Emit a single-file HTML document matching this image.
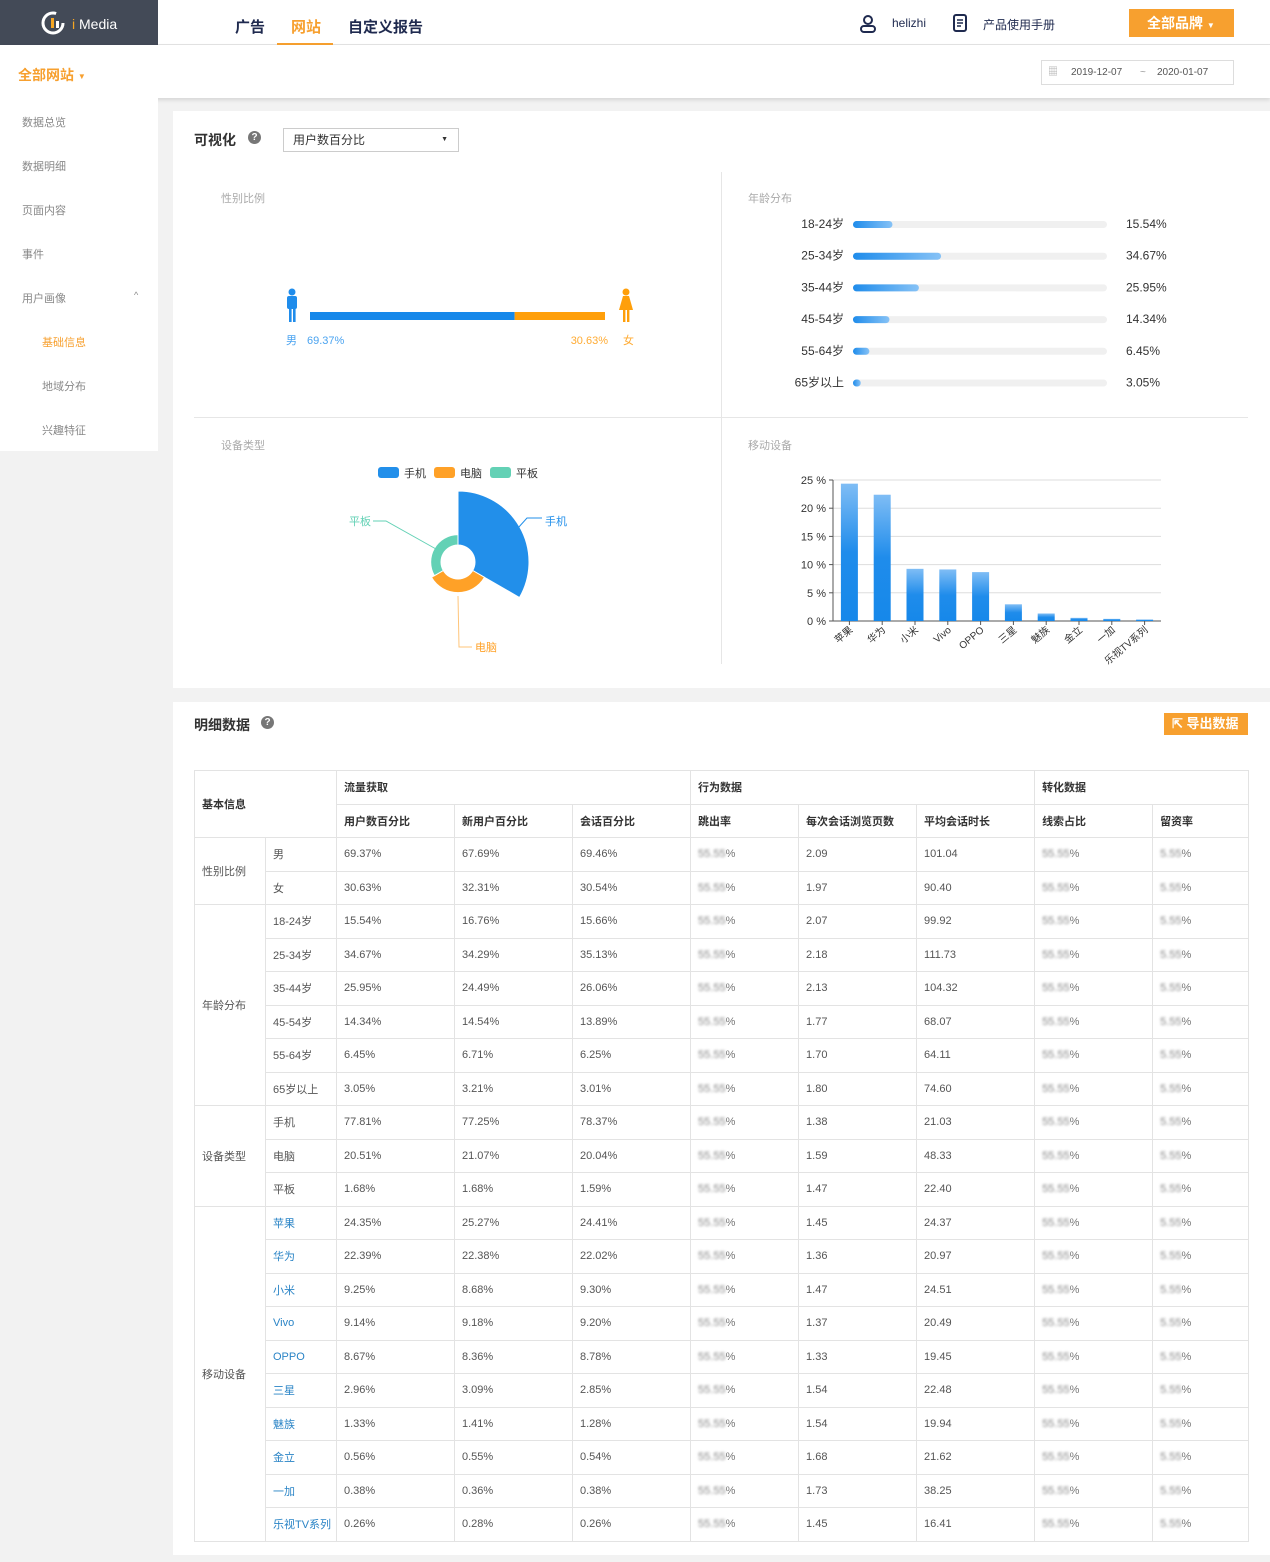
<!DOCTYPE html>
<html><head><meta charset="utf-8">
<style>
*{box-sizing:border-box;margin:0;padding:0}
body{width:1270px;height:1562px;background:#f2f2f2;font-family:"Liberation Sans","Noto Sans CJK SC",sans-serif;position:relative;overflow:hidden;color:#333}
.abs{position:absolute}
#topbar{left:0;top:0;width:1270px;height:45px;background:#fff;border-bottom:1px solid #e4e4e4}
#logo{left:0;top:0;width:158px;height:45px;background:#434a57;color:#fff;font-size:14px}
.nav{top:16px;font-size:15px;font-weight:bold;color:#1f2a4f}
#sub{left:0;top:45px;width:1270px;height:53px;background:#fff;box-shadow:0 2px 4px rgba(0,0,0,.12)}
#side{left:0;top:98px;width:158px;height:353px;background:#fff}
.si{position:absolute;font-size:11px;color:#888}
.card{background:#fff}
.blur{color:#777}
.blur b{font-weight:normal;filter:blur(1.3px);color:#888}
table{border-collapse:collapse;font-size:11px;color:#555;table-layout:fixed}
td{border:1px solid #e3e3e3;padding:0 7px;height:33.5px;vertical-align:middle;white-space:nowrap;overflow:visible}
th{border:1px solid #e3e3e3;padding:0 7px;height:33.5px;text-align:left;font-weight:bold;color:#333;font-size:11px;white-space:nowrap}
.brand{color:#2a84c6}
</style></head><body>
<div id="topbar" class="abs"></div>
<div id="logo" class="abs">
 <svg class="abs" style="left:40px;top:10px" width="28" height="26"><circle cx="13" cy="13" r="10" fill="none" stroke="#fff" stroke-width="3" stroke-dasharray="50 13"/><rect x="11" y="8" width="3" height="10" fill="#f5a623"/><rect x="16" y="11" width="3" height="7" fill="#fff"/></svg>
 <span class="abs" style="left:72px;top:16px;font-size:14px;color:#fff"><span style="color:#f5a623">i</span> Media</span>
</div>
<div class="abs nav" style="left:235px">广告</div>
<div class="abs nav" style="left:291px;color:#f7a02f">网站</div>
<div class="abs" style="left:277px;top:43px;width:56px;height:2px;background:#f7a02f"></div>
<div class="abs nav" style="left:348px">自定义报告</div>
<svg class="abs" style="left:859px;top:14px" width="18" height="20"><circle cx="9" cy="6" r="4" fill="none" stroke="#1f2a4f" stroke-width="2"/><rect x="2" y="12" width="14" height="6" rx="3" fill="none" stroke="#1f2a4f" stroke-width="2"/></svg>
<div class="abs" style="left:892px;top:16px;font-size:12px;color:#1f2a4f">helizhi</div>
<svg class="abs" style="left:952px;top:13px" width="16" height="20"><rect x="2" y="2" width="12" height="16" rx="2" fill="none" stroke="#1f2a4f" stroke-width="2"/><path d="M5 7h6M5 10h6M5 13h4" stroke="#1f2a4f" stroke-width="1.5"/></svg>
<div class="abs" style="left:983px;top:16px;font-size:12px;color:#1f2a4f">产品使用手册</div>
<div class="abs" style="left:1129px;top:9px;width:105px;height:28px;background:#f7a02f;color:#fff;font-size:14px;font-weight:bold;line-height:28px;padding-left:18px">全部品牌 <span style="font-size:8px">▼</span></div>

<div id="sub" class="abs"></div>
<div class="abs" style="left:18px;top:65px;font-size:14px;font-weight:bold;color:#f7a02f">全部网站 <span style="font-size:8px;vertical-align:middle">▼</span></div>
<div class="abs" style="left:1041px;top:60px;width:193px;height:25px;border:1px solid #ddd;font-size:10px;color:#555;line-height:23px"><span style="position:absolute;left:6px;color:#aaa">▦</span><span style="position:absolute;left:29px">2019-12-07</span><span style="position:absolute;left:98px;color:#999">~</span><span style="position:absolute;left:115px">2020-01-07</span></div>

<div id="side" class="abs">
 <div class="si" style="left:22px;top:16px">数据总览</div>
 <div class="si" style="left:22px;top:60px">数据明细</div>
 <div class="si" style="left:22px;top:104px">页面内容</div>
 <div class="si" style="left:22px;top:148px">事件</div>
 <div class="si" style="left:22px;top:192px">用户画像</div>
 <div class="si" style="left:134px;top:192px;font-size:9px">^</div>
 <div class="si" style="left:42px;top:236px;color:#f7a02f">基础信息</div>
 <div class="si" style="left:42px;top:280px">地域分布</div>
 <div class="si" style="left:42px;top:324px">兴趣特征</div>
</div>

<div class="abs card" style="left:173px;top:111px;width:1097px;height:577px"></div>
<div class="abs" style="left:194px;top:130px;font-size:14px;font-weight:bold">可视化</div>
<div class="abs" style="left:248px;top:131px;width:13px;height:13px;border-radius:50%;background:#777;color:#fff;font-size:10px;text-align:center;line-height:13px;font-weight:bold">?</div>
<div class="abs" style="left:283px;top:128px;width:176px;height:24px;border:1px solid #ccc;font-size:12px;line-height:22px;padding-left:9px">用户数百分比<span style="position:absolute;right:10px;font-size:7px">▼</span></div>
<div class="abs" style="left:721px;top:172px;width:1px;height:492px;background:#e6e6e6"></div>
<div class="abs" style="left:194px;top:417px;width:1054px;height:1px;background:#e6e6e6"></div>
<div class="abs" style="left:221px;top:190px;font-size:11px;color:#aaa">性别比例</div>
<div class="abs" style="left:748px;top:190px;font-size:11px;color:#aaa">年龄分布</div>
<div class="abs" style="left:221px;top:437px;font-size:11px;color:#aaa">设备类型</div>
<div class="abs" style="left:748px;top:437px;font-size:11px;color:#aaa">移动设备</div>

<svg class="abs" style="left:0;top:0" width="1270" height="700" id="charts">
 <defs><linearGradient id="gb" x1="0" y1="0" x2="0" y2="1"><stop offset="0" stop-color="#7fbdf5"/><stop offset=".5" stop-color="#1f8ceb"/><stop offset="1" stop-color="#1688ea"/></linearGradient>
 <linearGradient id="ga" x1="0" y1="0" x2="1" y2="0"><stop offset="0" stop-color="#1f8ceb"/><stop offset="1" stop-color="#86c2f6"/></linearGradient></defs>
 <g fill="#1f8ceb"><circle cx="292" cy="292" r="3.5"/><rect x="287" y="296" width="10" height="13" rx="2"/><rect x="289" y="306" width="2.6" height="16"/><rect x="293" y="306" width="2.6" height="16"/></g>
 <g fill="#ff9f0a"><circle cx="626" cy="292" r="3.5"/><path d="M623 296h6l4 14h-14z"/><rect x="623" y="308" width="2.4" height="14"/><rect x="627" y="308" width="2.4" height="14"/></g>
 <g id="gender"></g><g id="age"></g><g id="pie"></g><g id="bars"></g>
</svg>

<div class="abs card" style="left:173px;top:702px;width:1097px;height:853px"></div>
<div class="abs" style="left:194px;top:715px;font-size:14px;font-weight:bold">明细数据</div>
<div class="abs" style="left:261px;top:716px;width:13px;height:13px;border-radius:50%;background:#777;color:#fff;font-size:10px;text-align:center;line-height:13px;font-weight:bold">?</div>
<div class="abs" style="left:1164px;top:713px;width:84px;height:22px;background:#f7a02f;color:#fff;font-size:13px;font-weight:bold;line-height:22px;padding-left:8px">⇱ 导出数据</div>

<table class="abs" style="left:194px;top:770px;width:1054px">
<colgroup><col style="width:71px"><col style="width:71px"><col style="width:118px"><col style="width:118px"><col style="width:118px"><col style="width:108px"><col style="width:118px"><col style="width:118px"><col style="width:118px"><col style="width:96px"></colgroup>
<thead>
<tr><th colspan="2" rowspan="2">基本信息</th><th colspan="3">流量获取</th><th colspan="3">行为数据</th><th colspan="2">转化数据</th></tr>
<tr><th>用户数百分比</th><th>新用户百分比</th><th>会话百分比</th><th>跳出率</th><th>每次会话浏览页数</th><th>平均会话时长</th><th>线索占比</th><th>留资率</th></tr>
</thead>
<tbody id="tb"></tbody>
</table>

<script>
// gender
const genderLabels=['男','女'];
const genderValues=[69.37,30.63];
// age
const ageLabels=['18-24岁','25-34岁','35-44岁','45-54岁','55-64岁','65岁以上'];
const ageValues=[15.54,34.67,25.95,14.34,6.45,3.05];
// device pie (rose area)
const deviceLabels=['手机','电脑','平板'];
const deviceValues=[77.81,20.51,1.68];
// mobile brands
const brandLabels=['苹果','华为','小米','Vivo','OPPO','三星','魅族','金立','一加','乐视TV系列'];
const brandValues=[24.35,22.39,9.25,9.14,8.67,2.96,1.33,0.56,0.38,0.26];
const yTicks=[0,5,10,15,20,25];
// table columns
const tUsers=[69.37,30.63,15.54,34.67,25.95,14.34,6.45,3.05,77.81,20.51,1.68,24.35,22.39,9.25,9.14,8.67,2.96,1.33,0.56,0.38,0.26];
const tNew=[67.69,32.31,16.76,34.29,24.49,14.54,6.71,3.21,77.25,21.07,1.68,25.27,22.38,8.68,9.18,8.36,3.09,1.41,0.55,0.36,0.28];
const tSess=[69.46,30.54,15.66,35.13,26.06,13.89,6.25,3.01,78.37,20.04,1.59,24.41,22.02,9.30,9.20,8.78,2.85,1.28,0.54,0.38,0.26];
const tPages=[2.09,1.97,2.07,2.18,2.13,1.77,1.70,1.80,1.38,1.59,1.47,1.45,1.36,1.47,1.37,1.33,1.54,1.54,1.68,1.73,1.45];
const tDur=[101.04,90.40,99.92,111.73,104.32,68.07,64.11,74.60,21.03,48.33,22.40,24.37,20.97,24.51,20.49,19.45,22.48,19.94,21.62,38.25,16.41];
const groups=[['性别比例',2],['年龄分布',6],['设备类型',3],['移动设备',10]];

const NS='http://www.w3.org/2000/svg';
function mk(parent,tag,attrs,text){const e=document.createElementNS(NS,tag);for(const k in attrs)e.setAttribute(k,attrs[k]);if(text!==undefined)e.textContent=text;parent.appendChild(e);return e;}

// gender bar
const gx0=310,gx1=605,gw=gx1-gx0;
const gg=document.getElementById('gender');
const gScale=v=>v/100*gw;
let m=mk(gg,'rect',{x:gx0,y:312,width:gScale(genderValues[0]),height:8,fill:'#1688ea'});


let f=mk(gg,'rect',{x:gx0+gScale(genderValues[0]),y:312,width:gScale(genderValues[1]),height:8,fill:'#ff9f0a'});


mk(gg,'text',{x:286,y:344,'font-size':11,fill:'#4aa3f0'},genderLabels[0]);
mk(gg,'text',{x:307,y:344,'font-size':11,fill:'#4aa3f0'},genderValues[0].toFixed(2)+'%');
mk(gg,'text',{x:608,y:344,'font-size':11,fill:'#ffab33','text-anchor':'end'},genderValues[1].toFixed(2)+'%');
mk(gg,'text',{x:623,y:344,'font-size':11,fill:'#ffab33'},genderLabels[1]);

// age bars
const ag=document.getElementById('age');
const ax0=853,aw=254;
ageLabels.forEach((l,i)=>{
 const y=224+i*31.7;
 mk(ag,'text',{x:844,y:y+4,'font-size':12,fill:'#333','text-anchor':'end'},l);
 mk(ag,'rect',{x:ax0,y:y-3,width:aw,height:7,rx:3.5,fill:'#f0f0f0'});
 const r=mk(ag,'rect',{x:ax0,y:y-3,width:Math.max(7,ageValues[i]/100*aw),height:7,rx:3.5,fill:'url(#ga)'});
 
 
 mk(ag,'text',{x:1126,y:y+4,'font-size':12,fill:'#333'},ageValues[i].toFixed(2)+'%');
});

// legend + rose
const pg=document.getElementById('pie');
const pcol=['#228fea','#ffa127','#63d1b5'];
deviceLabels.forEach((l,i)=>{
 const x=378+i*56;
 mk(pg,'rect',{x:x,y:467,width:21,height:11,rx:3,fill:pcol[i]});
 mk(pg,'text',{x:x+26,y:477,'font-size':11,fill:'#333'},l);
});
const cx=458,cy=562,r0=17,rMin=26,rMax=71;
const dMax=Math.max(...deviceValues);
const seg=2*Math.PI/deviceValues.length;
deviceValues.forEach((v,i)=>{
 const R=Math.max(rMin, rMin+Math.sqrt(v/dMax)*(rMax-rMin)*(v===dMax?1:0.2));
 const a0=i*seg-Math.PI/2,a1=(i+1)*seg-Math.PI/2;
 const p=(a,r)=>[cx+r*Math.cos(a),cy+r*Math.sin(a)];
 const [x1,y1]=p(a0,R),[x2,y2]=p(a1,R),[x3,y3]=p(a1,r0),[x4,y4]=p(a0,r0);
 const s=mk(pg,'path',{d:`M${x1} ${y1}A${R} ${R} 0 0 1 ${x2} ${y2}L${x3} ${y3}A${r0} ${r0} 0 0 0 ${x4} ${y4}Z`,fill:pcol[i],stroke:'#fff','stroke-width':1});
 
 
});
mk(pg,'polyline',{points:'518,528 527,518 542,518',fill:'none',stroke:'#228fea'});
mk(pg,'text',{x:545,y:525,'font-size':11,fill:'#228fea'},deviceLabels[0]);
mk(pg,'polyline',{points:'458,596 459,647 472,647',fill:'none',stroke:'#ffc57a'});
mk(pg,'text',{x:475,y:651,'font-size':11,fill:'#ffa127'},deviceLabels[1]);
mk(pg,'polyline',{points:'436,549 386,521 373,521',fill:'none',stroke:'#63d1b5'});
mk(pg,'text',{x:349,y:525,'font-size':11,fill:'#63d1b5'},deviceLabels[2]);

// bar chart
const bg=document.getElementById('bars');
const bx0=833,bx1=1161,by0=621,by1=480;
const yS=v=>by0-v/25*(by0-by1);
const band=(bx1-bx0)/brandLabels.length;
yTicks.forEach(t=>{
 mk(bg,'line',{x1:bx0,x2:bx1,y1:yS(t),y2:yS(t),stroke:t===0?'#555':'#ddd'});
 mk(bg,'line',{x1:bx0-4,x2:bx0,y1:yS(t),y2:yS(t),stroke:'#555'});
 mk(bg,'text',{x:bx0-7,y:yS(t)+4,'font-size':11,fill:'#333','text-anchor':'end'},t+' %');
});
mk(bg,'line',{x1:bx0,x2:bx0,y1:by1,y2:by0,stroke:'#555'});
brandLabels.forEach((l,i)=>{
 const xc=bx0+band*(i+0.5);
 const b=mk(bg,'rect',{x:xc-8.5,y:yS(brandValues[i]),width:17,height:by0-yS(brandValues[i]),fill:'url(#gb)'});
 
 
 mk(bg,'line',{x1:xc,x2:xc,y1:by0,y2:by0+4,stroke:'#555'});
 mk(bg,'text',{x:xc+4,y:by0+10,'font-size':10,fill:'#333','text-anchor':'end',transform:`rotate(-40 ${xc+4} ${by0+10})`},l);
});

// table
const tb=document.getElementById('tb');
const subLabels=[...genderLabels,...ageLabels,...deviceLabels,...brandLabels];
let idx=0,html='';
groups.forEach(([g,n],gi)=>{
 for(let k=0;k<n;k++){
  const i=idx++;
  html+='<tr>'+(k===0?`<td rowspan="${n}">${g}</td>`:'')+
  `<td class="${gi===3?'brand':''}">${subLabels[i]}</td><td>${tUsers[i].toFixed(2)}%</td><td>${tNew[i].toFixed(2)}%</td><td>${tSess[i].toFixed(2)}%</td>`+
  `<td><span class="blur"><b>55.55</b>%</span></td><td>${tPages[i].toFixed(2)}</td><td>${tDur[i].toFixed(2)}</td><td><span class="blur"><b>55.55</b>%</span></td><td><span class="blur"><b>5.55</b>%</span></td></tr>`;
 }
});
tb.innerHTML=html;
</script>
</body></html>
